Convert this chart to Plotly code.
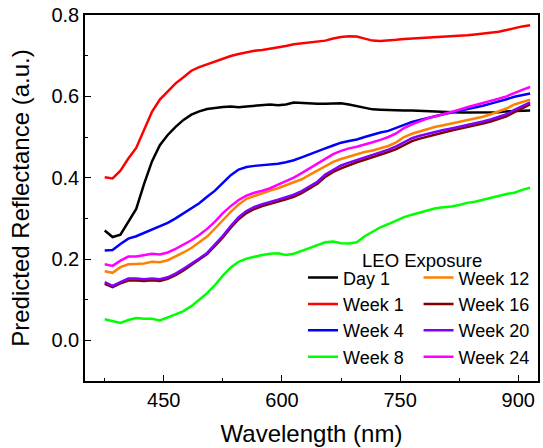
import plotly.graph_objects as go

# Wavelength grid (nm)
wavelength = list(range(375, 916, 10))

day_1 = [0.270, 0.254, 0.260, 0.293, 0.323, 0.385, 0.440, 0.480, 0.505, 0.525,
         0.542, 0.555, 0.563, 0.569, 0.572, 0.574, 0.575, 0.573, 0.575, 0.577,
         0.578, 0.580, 0.578, 0.580, 0.585, 0.584, 0.582, 0.582, 0.582, 0.582,
         0.583, 0.580, 0.576, 0.571, 0.568, 0.567, 0.566, 0.566, 0.565, 0.565,
         0.564, 0.563, 0.562, 0.561, 0.560, 0.560, 0.560, 0.560, 0.560, 0.560,
         0.561, 0.563, 0.564, 0.565, 0.565]
week_1 = [0.401, 0.398, 0.417, 0.447, 0.473, 0.518, 0.562, 0.592, 0.613, 0.632,
          0.647, 0.663, 0.672, 0.679, 0.686, 0.692, 0.699, 0.704, 0.708, 0.712,
          0.714, 0.717, 0.720, 0.724, 0.728, 0.730, 0.732, 0.734, 0.737, 0.742,
          0.746, 0.748, 0.747, 0.742, 0.737, 0.736, 0.737, 0.739, 0.741, 0.742,
          0.744, 0.745, 0.746, 0.747, 0.748, 0.749, 0.750, 0.752, 0.754, 0.756,
          0.759, 0.763, 0.768, 0.772, 0.775]
week_4 = [0.221, 0.222, 0.237, 0.250, 0.256, 0.264, 0.273, 0.280, 0.289, 0.300,
          0.313, 0.325, 0.337, 0.353, 0.368, 0.387, 0.406, 0.420, 0.426, 0.429,
          0.431, 0.432, 0.434, 0.438, 0.443, 0.450, 0.458, 0.465, 0.472, 0.479,
          0.486, 0.490, 0.494, 0.500, 0.506, 0.511, 0.515, 0.522, 0.530, 0.537,
          0.542, 0.547, 0.552, 0.556, 0.560, 0.564, 0.568, 0.572, 0.577, 0.582,
          0.587, 0.593, 0.599, 0.603, 0.607]
week_8 = [0.052, 0.047, 0.043, 0.050, 0.055, 0.053, 0.053, 0.049, 0.056, 0.064,
          0.072, 0.084, 0.100, 0.116, 0.136, 0.159, 0.179, 0.193, 0.201, 0.206,
          0.210, 0.213, 0.214, 0.210, 0.213, 0.220, 0.227, 0.235, 0.241, 0.243,
          0.239, 0.238, 0.241, 0.256, 0.268, 0.278, 0.286, 0.294, 0.303, 0.309,
          0.314, 0.320, 0.325, 0.327, 0.329, 0.333, 0.338, 0.341, 0.346, 0.350,
          0.355, 0.360, 0.363, 0.370, 0.375]
week_12 = [0.170, 0.166, 0.180, 0.187, 0.188, 0.189, 0.193, 0.192, 0.197, 0.206,
           0.216, 0.227, 0.240, 0.255, 0.275, 0.296, 0.316, 0.334, 0.348, 0.355,
           0.362, 0.368, 0.374, 0.381, 0.388, 0.396, 0.407, 0.417, 0.428, 0.439,
           0.446, 0.452, 0.457, 0.463, 0.467, 0.472, 0.478, 0.487, 0.500, 0.508,
           0.514, 0.520, 0.525, 0.529, 0.533, 0.537, 0.541, 0.545, 0.550, 0.556,
           0.563, 0.570, 0.580, 0.586, 0.592]
week_16 = [0.139, 0.131, 0.140, 0.147, 0.147, 0.146, 0.148, 0.146, 0.151, 0.160,
           0.172, 0.185, 0.198, 0.212, 0.232, 0.253, 0.277, 0.298, 0.313, 0.323,
           0.330, 0.335, 0.341, 0.347, 0.353, 0.362, 0.373, 0.385, 0.402, 0.414,
           0.423, 0.431, 0.438, 0.444, 0.450, 0.456, 0.463, 0.470, 0.481, 0.490,
           0.496, 0.501, 0.507, 0.511, 0.516, 0.520, 0.524, 0.528, 0.533, 0.538,
           0.544, 0.551, 0.561, 0.571, 0.580]
week_20 = [0.143, 0.134, 0.143, 0.152, 0.152, 0.150, 0.152, 0.150, 0.155, 0.164,
           0.176, 0.188, 0.201, 0.215, 0.236, 0.257, 0.281, 0.303, 0.318, 0.328,
           0.335, 0.340, 0.346, 0.352, 0.358, 0.367, 0.378, 0.390, 0.408, 0.420,
           0.430, 0.437, 0.444, 0.450, 0.456, 0.462, 0.469, 0.477, 0.488, 0.497,
           0.503, 0.508, 0.513, 0.517, 0.521, 0.525, 0.529, 0.533, 0.538, 0.543,
           0.549, 0.556, 0.567, 0.576, 0.585]
week_24 = [0.187, 0.183, 0.196, 0.206, 0.206, 0.209, 0.213, 0.211, 0.216, 0.225,
           0.235, 0.246, 0.259, 0.274, 0.292, 0.313, 0.330, 0.345, 0.356, 0.363,
           0.368, 0.374, 0.383, 0.391, 0.400, 0.411, 0.423, 0.435, 0.447, 0.458,
           0.466, 0.472, 0.476, 0.481, 0.487, 0.493, 0.500, 0.509, 0.522, 0.531,
           0.539, 0.546, 0.551, 0.556, 0.561, 0.567, 0.573, 0.578, 0.583, 0.589,
           0.594, 0.600, 0.609, 0.616, 0.623]

series_names = ["Day 1", "Week 1", "Week 4", "Week 8",
                "Week 12", "Week 16", "Week 20", "Week 24"]
series_values = [day_1, week_1, week_4, week_8,
                 week_12, week_16, week_20, week_24]
series_colors = ["#000000", "#FF0000", "#0000FF", "#00FF00",
                 "#FF8000", "#800000", "#8000FF", "#FF00FF"]

FONT = "Arial, Liberation Sans, sans-serif"

fig = go.Figure()
for i, (name, vals, color) in enumerate(zip(series_names, series_values, series_colors)):
    fig.add_trace(go.Scatter(
        x=wavelength, y=vals, name=name, mode="lines",
        line=dict(color=color, width=2.5),
        legend="legend" if i < 4 else "legend2",
    ))

legend_style = dict(
    orientation="v", xanchor="left", yanchor="middle", y=0.174,
    bgcolor="rgba(0,0,0,0)", borderwidth=0,
    font=dict(family=FONT, size=18, color="#000000"),
    tracegroupgap=0,
)

fig.update_layout(
    width=543, height=448,
    margin=dict(l=85, r=3, t=15, b=67),
    paper_bgcolor="white", plot_bgcolor="white",
    font=dict(family=FONT, color="#000000"),
    showlegend=True,
    legend=dict(x=0.4813, **legend_style),
    legend2=dict(x=0.7363, **legend_style),
    annotations=[dict(
        text="LEO Exposure", xref="paper", yref="paper",
        x=0.7429, y=0.3287, xanchor="center", yanchor="middle",
        showarrow=False, font=dict(family=FONT, size=18.5, color="#000000"),
    )],
)

fig.update_xaxes(
    range=[350, 925], tick0=0, dtick=150,
    ticks="inside", ticklen=6, tickwidth=1.3, tickcolor="#000000",
    minor=dict(dtick=75, ticks="inside", ticklen=3.5, tickwidth=1.3, tickcolor="#000000"),
    showline=True, linecolor="#000000", linewidth=1.5, mirror=True,
    showgrid=False, zeroline=False,
    tickfont=dict(family=FONT, size=20, color="#000000"),
    title=dict(text="Wavelength (nm)", font=dict(family=FONT, size=24, color="#000000")),
)
fig.update_yaxes(
    range=[-0.1, 0.8], tick0=0, dtick=0.2, tickformat=".1f",
    ticks="inside", ticklen=6, tickwidth=1.3, tickcolor="#000000",
    minor=dict(dtick=0.1, ticks="inside", ticklen=3.5, tickwidth=1.3, tickcolor="#000000"),
    showline=True, linecolor="#000000", linewidth=1.5, mirror=True,
    showgrid=False, zeroline=False,
    tickfont=dict(family=FONT, size=20, color="#000000"),
    title=dict(text="Predicted Reflectance (a.u.)", font=dict(family=FONT, size=24, color="#000000")),
)

fig.write_html("out.html")
